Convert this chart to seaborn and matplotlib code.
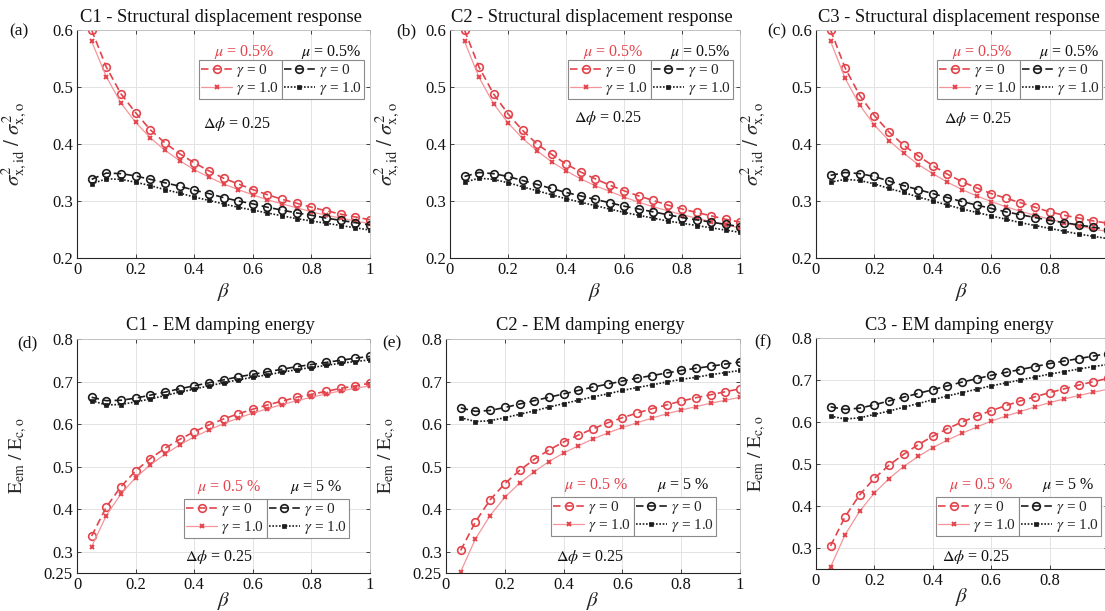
import matplotlib
matplotlib.use('Agg')
import matplotlib.pyplot as plt
import seaborn as sns

# Common abscissa (beta)
beta = [0.05, 0.10, 0.15, 0.20, 0.25, 0.30, 0.35, 0.40, 0.45, 0.50,
        0.55, 0.60, 0.65, 0.70, 0.75, 0.80, 0.85, 0.90, 0.95, 1.00]

# Top row: structural displacement response ratio
c1_disp_red_g0 = [0.600, 0.535, 0.488, 0.455, 0.425, 0.402, 0.383, 0.367, 0.353, 0.340,
                  0.330, 0.320, 0.311, 0.303, 0.296, 0.289, 0.283, 0.277, 0.272, 0.267]
c1_disp_red_g1 = [0.580, 0.518, 0.472, 0.438, 0.411, 0.389, 0.371, 0.355, 0.342, 0.330,
                  0.320, 0.311, 0.302, 0.295, 0.288, 0.281, 0.275, 0.270, 0.265, 0.260]
c1_disp_blk_g0 = [0.338, 0.349, 0.348, 0.344, 0.338, 0.332, 0.326, 0.319, 0.313, 0.306,
                  0.300, 0.295, 0.289, 0.284, 0.279, 0.275, 0.270, 0.266, 0.262, 0.258]
c1_disp_blk_g1 = [0.330, 0.339, 0.338, 0.333, 0.327, 0.320, 0.314, 0.307, 0.301, 0.295,
                  0.289, 0.284, 0.279, 0.274, 0.269, 0.265, 0.261, 0.257, 0.253, 0.249]

c2_disp_red_g0 = [0.600, 0.535, 0.488, 0.453, 0.424, 0.400, 0.382, 0.365, 0.351, 0.339,
                  0.328, 0.318, 0.309, 0.301, 0.293, 0.286, 0.280, 0.274, 0.268, 0.263]
c2_disp_red_g1 = [0.580, 0.517, 0.471, 0.437, 0.410, 0.388, 0.369, 0.353, 0.339, 0.327,
                  0.317, 0.307, 0.298, 0.290, 0.283, 0.276, 0.270, 0.264, 0.258, 0.253]
c2_disp_blk_g0 = [0.343, 0.350, 0.348, 0.343, 0.336, 0.329, 0.322, 0.315, 0.309, 0.303,
                  0.297, 0.291, 0.286, 0.281, 0.276, 0.271, 0.267, 0.263, 0.259, 0.255]
c2_disp_blk_g1 = [0.333, 0.340, 0.338, 0.332, 0.325, 0.318, 0.311, 0.304, 0.298, 0.292,
                  0.286, 0.280, 0.275, 0.270, 0.265, 0.261, 0.257, 0.253, 0.249, 0.245]

c3_disp_red_g0 = [0.600, 0.533, 0.485, 0.450, 0.421, 0.398, 0.379, 0.362, 0.347, 0.334,
                  0.323, 0.313, 0.305, 0.297, 0.289, 0.281, 0.275, 0.270, 0.265, 0.261]
c3_disp_red_g1 = [0.580, 0.515, 0.468, 0.433, 0.406, 0.384, 0.364, 0.348, 0.333, 0.320,
                  0.309, 0.299, 0.290, 0.282, 0.275, 0.268, 0.262, 0.256, 0.251, 0.246]
c3_disp_blk_g0 = [0.345, 0.350, 0.348, 0.343, 0.335, 0.327, 0.320, 0.313, 0.306, 0.299,
                  0.293, 0.287, 0.281, 0.276, 0.271, 0.266, 0.262, 0.258, 0.254, 0.250]
c3_disp_blk_g1 = [0.333, 0.338, 0.336, 0.330, 0.322, 0.315, 0.307, 0.300, 0.293, 0.286,
                  0.280, 0.274, 0.268, 0.262, 0.257, 0.252, 0.247, 0.242, 0.238, 0.234]

# Bottom row: EM damping energy ratio
c1_em_red_g0 = [0.337, 0.405, 0.453, 0.490, 0.519, 0.543, 0.564, 0.582, 0.598, 0.612,
                0.624, 0.635, 0.645, 0.654, 0.663, 0.670, 0.677, 0.684, 0.690, 0.696]
c1_em_red_g1 = [0.312, 0.385, 0.436, 0.474, 0.504, 0.529, 0.551, 0.570, 0.586, 0.601,
                0.614, 0.626, 0.636, 0.646, 0.655, 0.663, 0.671, 0.678, 0.684, 0.690]
c1_em_blk_g0 = [0.663, 0.655, 0.656, 0.661, 0.668, 0.675, 0.683, 0.690, 0.697, 0.704,
                0.711, 0.717, 0.723, 0.729, 0.735, 0.740, 0.745, 0.750, 0.755, 0.759]
c1_em_blk_g1 = [0.655, 0.645, 0.646, 0.652, 0.659, 0.667, 0.675, 0.682, 0.690, 0.697,
                0.704, 0.710, 0.716, 0.722, 0.728, 0.733, 0.738, 0.743, 0.747, 0.751]

c2_em_red_g0 = [0.303, 0.370, 0.422, 0.460, 0.491, 0.517, 0.539, 0.558, 0.574, 0.589,
                0.603, 0.615, 0.626, 0.636, 0.645, 0.654, 0.662, 0.669, 0.676, 0.683]
c2_em_red_g1 = [0.253, 0.330, 0.385, 0.428, 0.461, 0.488, 0.512, 0.532, 0.549, 0.565,
                0.579, 0.592, 0.603, 0.614, 0.624, 0.633, 0.641, 0.649, 0.656, 0.663]
c2_em_blk_g0 = [0.638, 0.630, 0.632, 0.639, 0.647, 0.655, 0.663, 0.671, 0.679, 0.687,
                0.694, 0.701, 0.708, 0.714, 0.720, 0.726, 0.731, 0.736, 0.741, 0.746]
c2_em_blk_g1 = [0.615, 0.606, 0.608, 0.615, 0.623, 0.631, 0.640, 0.648, 0.656, 0.664,
                0.671, 0.679, 0.686, 0.692, 0.699, 0.705, 0.710, 0.716, 0.721, 0.726]

c3_em_red_g0 = [0.305, 0.375, 0.427, 0.466, 0.497, 0.523, 0.546, 0.566, 0.584, 0.600,
                0.614, 0.627, 0.639, 0.650, 0.660, 0.670, 0.679, 0.688, 0.696, 0.704]
c3_em_red_g1 = [0.255, 0.332, 0.388, 0.431, 0.465, 0.494, 0.518, 0.539, 0.557, 0.573,
                0.588, 0.602, 0.614, 0.625, 0.636, 0.646, 0.655, 0.663, 0.671, 0.678]
c3_em_blk_g0 = [0.636, 0.630, 0.633, 0.641, 0.650, 0.659, 0.668, 0.677, 0.686, 0.695,
                0.703, 0.711, 0.718, 0.725, 0.732, 0.739, 0.745, 0.751, 0.757, 0.763]
c3_em_blk_g1 = [0.614, 0.607, 0.610, 0.618, 0.626, 0.635, 0.644, 0.653, 0.662, 0.670,
                0.678, 0.686, 0.693, 0.700, 0.707, 0.714, 0.720, 0.726, 0.732, 0.737]

titles = ['C1 - Structural displacement response', 'C2 - Structural displacement response',
          'C3 - Structural displacement response', 'C1 - EM damping energy',
          'C2 - EM damping energy', 'C3 - EM damping energy']
panel_tags = ['(a)', '(b)', '(c)', '(d)', '(e)', '(f)']
gamma_labels = [r'$\gamma$ = 0', r'$\gamma$ = 1.0']
mu_top = [r'$\mu$ = 0.5%', r'$\mu$ = 0.5%']
mu_bottom = [r'$\mu$ = 0.5 %', r'$\mu$ = 5 %']
dphi_text = r'$\Delta\phi$ = 0.25'

panel_data = [
    (c1_disp_red_g0, c1_disp_red_g1, c1_disp_blk_g0, c1_disp_blk_g1),
    (c2_disp_red_g0, c2_disp_red_g1, c2_disp_blk_g0, c2_disp_blk_g1),
    (c3_disp_red_g0, c3_disp_red_g1, c3_disp_blk_g0, c3_disp_blk_g1),
    (c1_em_red_g0, c1_em_red_g1, c1_em_blk_g0, c1_em_blk_g1),
    (c2_em_red_g0, c2_em_red_g1, c2_em_blk_g0, c2_em_blk_g1),
    (c3_em_red_g0, c3_em_red_g1, c3_em_blk_g0, c3_em_blk_g1),
]

W, H = 1105, 611
# axes rectangles in pixels: left, top, right, bottom
rects = [(77, 30, 370, 258), (450, 30, 740, 258), (816, 30, 1108, 258),
         (77, 339, 370, 573), (446, 339, 740, 573), (816, 338, 1108, 569)]
tag_pos = [(19, 31), (406, 31), (777, 31), (27, 343), (392, 343), (763, 342)]
legend_pos = [(199, 60), (568, 60), (937, 60), (184, 499), (551, 497), (936, 497)]
dphi_pos = [(203, 124), (574, 118), (944, 119), (185, 557), (556, 557), (942, 557)]

RED = '#E3444C'
PINK = '#F4959A'
BLK = '#1c1c1c'
TXT = '#111111'

styles = [
    dict(color=RED, linestyle=(0, (4.5, 2.5)), linewidth=1.2, marker='o', markersize=5.5,
         markerfacecolor='none', markeredgecolor=RED, markeredgewidth=1.2),
    dict(color=PINK, linestyle='-', linewidth=0.9, marker='x', markersize=3.5,
         markerfacecolor=RED, markeredgecolor=RED, markeredgewidth=1.4),
    dict(color=BLK, linestyle=(0, (4.5, 2.5)), linewidth=1.2, marker='o', markersize=5.5,
         markerfacecolor='none', markeredgecolor=BLK, markeredgewidth=1.2),
    dict(color=BLK, linestyle=(0, (1, 1)), linewidth=1.2, marker='s', markersize=2.8,
         markerfacecolor=BLK, markeredgecolor=BLK, markeredgewidth=0.5),
]

sns.set_theme(style='whitegrid')
plt.rcParams['font.family'] = ['Liberation Serif', 'DejaVu Serif']
plt.rcParams['mathtext.fontset'] = 'stix'

fig = plt.figure(figsize=(W / 100, H / 100), dpi=100)
fig.patch.set_facecolor('white')


def fx(x):
    return x / W


def fy(y):
    return 1 - y / H


for i in range(6):
    l, t, r, b = rects[i]
    ax = fig.add_axes([fx(l), fy(b), (r - l) / W, (b - t) / H])
    for vals, st in zip(panel_data[i], styles):
        sns.lineplot(x=beta, y=vals, ax=ax, errorbar=None, sort=False, **st)

    top_row = i < 3
    ax.set_xlim(0, 1)
    ax.set_xticks([0, 0.2, 0.4, 0.6, 0.8, 1.0])
    ax.set_xticklabels(['0', '0.2', '0.4', '0.6', '0.8', '1'])
    ax.set_xlabel(r'$\beta$', fontsize=15)
    if top_row:
        ax.set_ylim(0.2, 0.6)
        ax.set_yticks([0.2, 0.3, 0.4, 0.5, 0.6])
        ax.set_yticklabels(['0.2', '0.3', '0.4', '0.5', '0.6'])
        ax.set_ylabel(r'$\sigma^2_{\mathrm{x,id}}\ /\ \sigma^2_{\mathrm{x,o}}$', fontsize=15)
        ax.xaxis.set_label_coords(0.5, -23 / (b - t))
    else:
        ax.set_ylim(0.25, 0.8)
        if i == 5:
            ax.set_yticks([0.3, 0.4, 0.5, 0.6, 0.7, 0.8])
            ax.set_yticklabels(['0.3', '0.4', '0.5', '0.6', '0.7', '0.8'])
        else:
            ax.set_yticks([0.25, 0.3, 0.4, 0.5, 0.6, 0.7, 0.8])
            ax.set_yticklabels(['0.25', '0.3', '0.4', '0.5', '0.6', '0.7', '0.8'])
        ax.set_ylabel(r'$\mathrm{E_{em}\ /\ E_{c,o}}$', fontsize=14)
        ax.xaxis.set_label_coords(0.5, -17 / (b - t))
    ax.yaxis.set_label_coords(-48 / (r - l), 0.5)

    ax.tick_params(axis='both', labelsize=12, direction='in', length=3, width=0.6,
                   colors='#262626', labelcolor=TXT, pad=3,
                   top=True, right=True, left=True, bottom=True)
    ax.grid(True, color='#e3e3e3', linewidth=0.7)
    ax.set_facecolor('white')
    for side in ['left', 'bottom']:
        ax.spines[side].set_color('#262626')
        ax.spines[side].set_linewidth(0.8)
    for side in ['top', 'right']:
        ax.spines[side].set_color('#bdbdbd')
        ax.spines[side].set_linewidth(0.6)

    cx = (l + r) / 2
    fig.text(fx(cx - 3), fy(17 if top_row else 325), titles[i], ha='center', va='center',
             fontsize=13.3, color=TXT)
    fig.text(fx(tag_pos[i][0]), fy(tag_pos[i][1]), panel_tags[i], ha='center', va='center',
             fontsize=12.5, color=TXT)
    fig.text(fx(dphi_pos[i][0]), fy(dphi_pos[i][1]), dphi_text, ha='left', va='center',
             fontsize=11.5, color=TXT)

    # two-column MATLAB-like legend, one box per mu value
    lines = ax.lines
    lx, ly = legend_pos[i]
    leg_kw = dict(loc='upper left', bbox_transform=fig.transFigure, fontsize=11,
                  frameon=True, fancybox=False, framealpha=1, edgecolor='#8a8a8a',
                  borderaxespad=0, borderpad=0.15, labelspacing=0.05, handlelength=2.0,
                  handletextpad=0.3, numpoints=1)
    leg1 = ax.legend(handles=[lines[0], lines[1]], labels=gamma_labels,
                     bbox_to_anchor=(fx(lx), fy(ly)), **leg_kw)
    leg1.get_frame().set_linewidth(0.8)
    ax.add_artist(leg1)
    fig.canvas.draw()
    bb = leg1.get_window_extent()
    leg2 = ax.legend(handles=[lines[2], lines[3]], labels=gamma_labels,
                     bbox_to_anchor=(bb.x1 / W, fy(ly)), **leg_kw)
    leg2.get_frame().set_linewidth(0.8)
    fig.canvas.draw()
    bb2 = leg2.get_window_extent()
    mus = mu_top if top_row else mu_bottom
    gap = 8 if top_row else 12
    fig.text(((bb.x0 + bb.x1) / 2 + 4) / W, (bb.y1 + gap) / H, mus[0], ha='center',
             va='center', fontsize=11.5, color=RED)
    fig.text(((bb2.x0 + bb2.x1) / 2 + 8) / W, (bb2.y1 + gap) / H, mus[1], ha='center',
             va='center', fontsize=11.5, color=TXT)

fig.savefig('out.png', dpi=100, facecolor='white')
